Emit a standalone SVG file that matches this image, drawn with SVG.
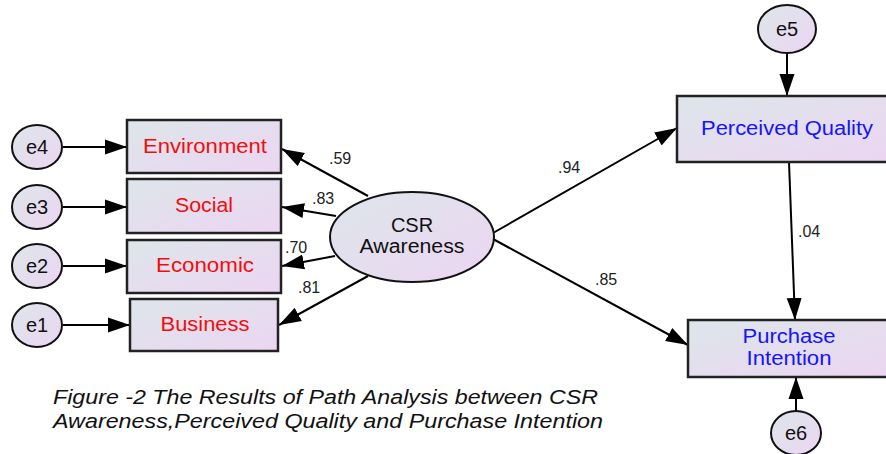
<svg xmlns="http://www.w3.org/2000/svg" width="886" height="454" viewBox="0 0 886 454">
<defs>
<linearGradient id="g" x1="0" y1="0" x2="1" y2="1">
<stop offset="0" stop-color="#dde6ea"/>
<stop offset="1" stop-color="#ecd5f2"/>
</linearGradient>
<marker id="ah" markerUnits="userSpaceOnUse" markerWidth="23" markerHeight="16" refX="22" refY="7.5" orient="auto" viewBox="0 0 23 15">
<path d="M0,0 L22,7.5 L0,15 Z" fill="#000"/>
</marker>
</defs>
<style>
.box{fill:url(#g);stroke:#222;stroke-width:2.5}
.ell{fill:url(#g);stroke:#111;stroke-width:2}
.red{font-family:"Liberation Sans",Arial,sans-serif;font-size:20px;fill:#f20d0d;text-anchor:middle}
.blue{font-family:"Liberation Sans",Arial,sans-serif;font-size:20px;fill:#1414ff;text-anchor:middle}
.blk{font-family:"Liberation Sans",Arial,sans-serif;font-size:20px;fill:#111;text-anchor:middle}
.num{font-family:"Liberation Sans",Arial,sans-serif;font-size:16px;fill:#222}
.cap{font-family:"Liberation Sans",Arial,sans-serif;font-size:20px;font-style:italic;fill:#111}
.ln{stroke:#000;stroke-width:2;fill:none;marker-end:url(#ah)}
</style>
<rect width="886" height="454" fill="#fff"/>

<g id="connectors">
<line class="ln" x1="63" y1="147" x2="127" y2="147"/>
<line class="ln" x1="63" y1="207" x2="127" y2="207"/>
<line class="ln" x1="63" y1="266" x2="127" y2="266"/>
<line class="ln" x1="63" y1="325" x2="130" y2="325"/>
<line class="ln" x1="368" y1="196" x2="282" y2="149"/>
<line class="ln" x1="336" y1="216" x2="282" y2="207"/>
<line class="ln" x1="335" y1="256" x2="282" y2="266"/>
<line class="ln" x1="368" y1="276" x2="279" y2="325"/>
<line class="ln" x1="493" y1="233" x2="677" y2="128"/>
<line class="ln" x1="493" y1="239" x2="688" y2="345"/>
<line class="ln" x1="787" y1="53" x2="787" y2="96"/>
<line class="ln" x1="789" y1="162" x2="795" y2="320"/>
<line class="ln" x1="796" y1="411" x2="796" y2="377"/>
<text class="num" x="329" y="164">.59</text>
<text class="num" x="312" y="204">.83</text>
<text class="num" x="285" y="253">.70</text>
<text class="num" x="298" y="293">.81</text>
<text class="num" x="558" y="173">.94</text>
<text class="num" x="595" y="285">.85</text>
<text class="num" x="798" y="237">.04</text>
</g>

<g id="e4"><ellipse class="ell" cx="37" cy="147" rx="25" ry="22"/><text class="blk" x="37" y="154">e4</text></g>
<g id="e3"><ellipse class="ell" cx="37" cy="207" rx="25" ry="22"/><text class="blk" x="37" y="214">e3</text></g>
<g id="e2"><ellipse class="ell" cx="37" cy="266" rx="25" ry="22"/><text class="blk" x="37" y="273">e2</text></g>
<g id="e1"><ellipse class="ell" cx="37" cy="325" rx="25" ry="22"/><text class="blk" x="37" y="332">e1</text></g>

<g id="environment"><rect class="box" x="127" y="120" width="154" height="53"/><text class="red" x="205" y="153" textLength="124" lengthAdjust="spacingAndGlyphs">Environment</text></g>
<g id="social"><rect class="box" x="127" y="179" width="154" height="54"/><text class="red" x="204" y="212" textLength="58" lengthAdjust="spacingAndGlyphs">Social</text></g>
<g id="economic"><rect class="box" x="127" y="240" width="154" height="53"/><text class="red" x="205" y="272" textLength="98" lengthAdjust="spacingAndGlyphs">Economic</text></g>
<g id="business"><rect class="box" x="130" y="299" width="148" height="52"/><text class="red" x="205" y="331" textLength="89" lengthAdjust="spacingAndGlyphs">Business</text></g>

<g id="csr"><ellipse class="ell" cx="412" cy="237" rx="82" ry="45"/><text class="blk" x="412" y="232">CSR</text><text class="blk" x="412" y="253" textLength="105" lengthAdjust="spacingAndGlyphs">Awareness</text></g>

<g id="e5"><ellipse class="ell" cx="787" cy="29" rx="29" ry="24"/><text class="blk" x="787" y="36">e5</text></g>
<g id="perceived-quality"><rect class="box" x="677" y="96" width="220" height="66"/><text class="blue" x="787" y="135" textLength="172" lengthAdjust="spacingAndGlyphs">Perceived Quality</text></g>
<g id="purchase-intention"><rect class="box" x="688" y="320" width="210" height="57"/><text class="blue" x="789" y="343" textLength="93" lengthAdjust="spacingAndGlyphs">Purchase</text><text class="blue" x="789" y="365" textLength="85" lengthAdjust="spacingAndGlyphs">Intention</text></g>
<g id="e6"><ellipse class="ell" cx="796" cy="433" rx="25" ry="22"/><text class="blk" x="796" y="440">e6</text></g>

<g id="caption">
<text class="cap" x="53" y="404" textLength="545" lengthAdjust="spacingAndGlyphs">Figure -2 The Results of Path Analysis between CSR</text>
<text class="cap" x="53" y="428" textLength="550" lengthAdjust="spacingAndGlyphs">Awareness,Perceived Quality and Purchase Intention</text>
</g>
</svg>
